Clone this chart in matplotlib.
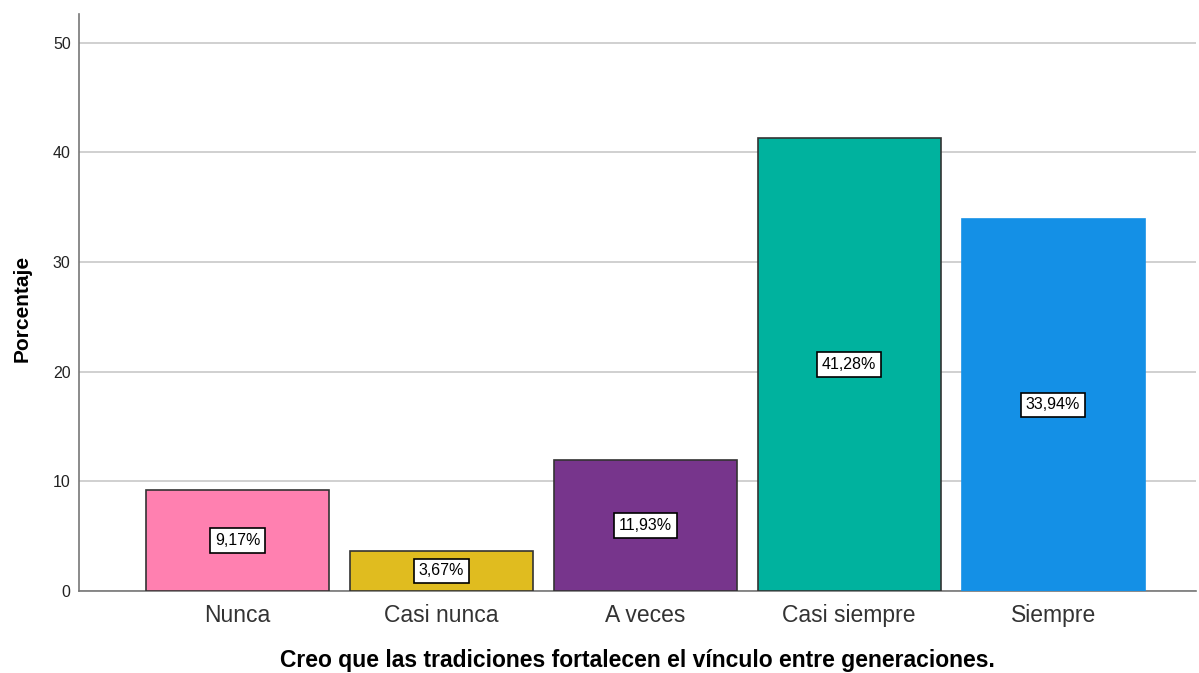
import matplotlib
matplotlib.use("Agg")
import matplotlib.pyplot as plt
import numpy as np

categories = ["Nunca", "Casi nunca", "A veces", "Casi siempre", "Siempre"]
percentages = [9.17, 3.67, 11.93, 41.28, 33.94]
bar_labels = ["9,17%", "3,67%", "11,93%", "41,28%", "33,94%"]
colors = ["#FF80B0", "#E0BC1F", "#77358C", "#00B29E", "#1490E6"]
edge_colors = ["#333333", "#333333", "#333333", "#333333", "#1490E6"]
yticks = [0, 10, 20, 30, 40, 50]

plt.rcParams["font.family"] = ["Liberation Sans", "DejaVu Sans"]

fig = plt.figure(figsize=(11.99, 6.73), dpi=100)
ax = fig.add_axes([0.0659, 0.1218, 0.932, 0.8574])

x = np.arange(len(categories))
bars = ax.bar(x, percentages, width=0.897, color=colors, edgecolor=edge_colors,
              linewidth=1.2, zorder=3)

for xi, val, lab in zip(x, percentages, bar_labels):
    ax.text(xi, val / 2, lab, ha="center", va="center", fontsize=11.5, zorder=4,
            bbox=dict(boxstyle="square,pad=0.3", fc="white", ec="black", lw=1.2))

ax.set_xlim(-0.777, 4.703)
ax.set_ylim(0, 52.6)
ax.set_yticks(yticks)
ax.set_yticklabels([str(t) for t in yticks], fontsize=11.5, color="#222222")
ax.set_xticks(x)
ax.set_xticklabels(categories, fontsize=16.5, color="#333333")
ax.tick_params(axis="both", length=0)
ax.tick_params(axis="x", pad=9)
ax.tick_params(axis="y", pad=6)

ax.yaxis.grid(True, color="#c8c8c8", linewidth=1.2, zorder=0)
ax.set_axisbelow(True)

for s in ["top", "right"]:
    ax.spines[s].set_visible(False)
for s in ["left", "bottom"]:
    ax.spines[s].set_color("#777777")
    ax.spines[s].set_linewidth(1.2)

ax.set_ylabel("Porcentaje", fontsize=15, fontweight="bold")
ax.yaxis.set_label_coords(-0.042, 0.489)
ax.set_xlabel("Creo que las tradiciones fortalecen el vínculo entre generaciones.",
              fontsize=16.5, fontweight="bold", labelpad=16.5)

fig.savefig("out.png", dpi=100)
